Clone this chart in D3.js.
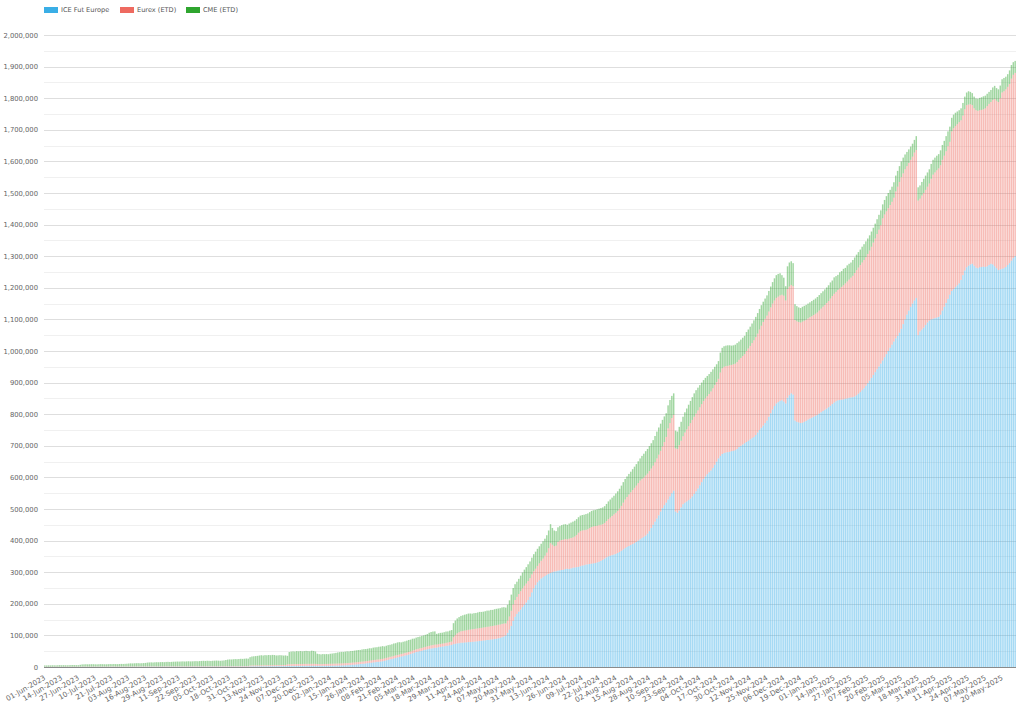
<!DOCTYPE html>
<html><head><meta charset="utf-8">
<script src="https://cdn.jsdelivr.net/npm/d3@7"></script>
<style>
body{margin:0;background:#fff}
text{font-family:"DejaVu Sans",Verdana,sans-serif}
</style>
</head><body>
<svg id="chart" width="1024" height="705"></svg>
<script>
// Series names and colours (legend order)
const seriesNames = ["ICE Fut Europe", "Eurex (ETD)", "CME (ETD)"];
const seriesColors = ["#3aaee6", "#ee6a60", "#2fa52f"];
const startDate = "2023-06-01"; // first business day shown; one bar per weekday
// Values in thousands, one per weekday bar
const iceFutEurope = [
0.3,0.3,0.3,0.3,0.3,0.3,0.3,0.3,0.4,0.4,
0.4,0.4,0.4,0.4,0.4,0.4,0.4,0.5,0.5,0.5,
0.5,0.5,0.5,0.5,0.5,0.5,0.5,0.5,0.6,0.6,
0.6,0.6,0.6,0.6,0.6,0.6,0.6,0.6,0.6,0.6,
0.7,0.7,0.7,0.7,0.7,0.7,0.7,0.7,0.7,0.7,
0.7,0.7,0.7,0.7,0.8,0.8,0.8,0.8,0.8,0.8,
0.8,0.8,0.8,0.8,0.8,0.8,0.8,0.8,0.9,0.9,
0.9,0.9,0.9,0.9,0.9,0.9,0.9,0.9,0.9,0.9,
0.9,0.9,0.9,0.9,1.0,1.0,1.0,1.0,1.0,1.0,
1.0,1.0,1.0,1.0,1.0,1.0,1.0,1.0,1.0,1.0,
1.1,1.1,1.1,1.1,1.1,1.2,1.2,1.2,1.2,1.2,
1.8,2.0,2.1,2.1,2.2,2.2,2.3,2.3,2.4,2.4,
2.5,2.5,2.6,2.6,2.7,2.7,2.8,2.8,2.9,2.9,
3.0,3.1,3.1,3.2,3.2,3.3,3.3,3.4,3.4,3.5,
3.5,3.6,3.6,3.7,3.7,3.6,3.5,3.5,3.4,3.5,
3.6,3.6,3.7,3.8,3.9,4.1,4.2,4.4,4.6,4.9,
5.1,5.3,5.7,6.0,6.4,7.1,7.4,8.1,8.5,9.3,
9.9,10.4,11.3,11.9,12.9,13.4,14.3,14.9,15.9,16.4,
17.3,18.1,19.4,21.1,22.4,24.2,25.3,27.1,28.4,30.2,
31.4,33.2,34.3,36.1,37.4,39.2,40.8,43.1,44.8,47.2,
48.4,50.1,51.3,53.2,54.4,56.1,57.3,58.6,59.4,60.7,
61.3,62.6,63.4,64.7,65.3,66.6,67.4,68.7,69.8,72.2,
73.4,74.6,75.3,76.7,76.9,77.6,77.8,78.7,78.9,79.6,
80.1,80.9,81.4,82.4,82.9,83.9,84.3,85.4,85.8,86.9,
87.4,88.6,89.3,90.7,91.8,94.2,96.6,
100,108,118,130,146,159,168,175,182,190,
197,204,212,222,236,249,259,268,274,280,
284,288,292,295,298,300,302,303,305,306,
307,308,310,311,310,312,314,315,316,317,
319,321,322,324,325,326,327,328,329,331,
333,336,339,343,347,350,352,354,356,358,
361,364,368,372,376,380,383,386,389,392,
396,400,404,408,412,416,422,430,440,450,
460,470,480,492,503,512,520,530,540,550,
558,492,488,495,505,515,520,524,528,533,
540,548,556,565,575,585,595,603,610,616,
622,630,640,650,660,668,674,677,679,680,
681,683,684,686,690,696,700,704,708,712,
716,720,724,728,734,742,750,757,764,772,
780,792,803,815,826,834,838,842,844,840,
834,852,860,866,862,780,776,774,772,773,
776,779,783,786,789,792,795,798,802,806,
810,814,818,822,827,832,837,841,844,845,
846,847,849,850,852,853,854,856,860,865,
870,876,882,890,898,906,915,924,933,942,
951,960,970,980,990,1000,1010,1020,1030,1040,
1048,1058,1070,1085,1100,1115,1128,1140,1150,1160,
1168,1050,1062,1068,1074,1082,1090,1096,1100,1102,
1104,1106,1108,1115,1128,1140,1152,1165,1178,1190,
1196,1202,1208,1214,1225,1240,1255,1265,1270,1274,
1276,1270,1264,1262,1265,1266,1267,1266,1268,1272,
1276,1274,1268,1262,1256,1258,1260,1262,1266,1272,
1278,1286,1294,1300];
const eurexETD = [
0.6,0.6,0.6,0.7,0.6,0.7,0.7,0.7,0.7,0.7,
0.7,0.8,0.8,0.8,0.8,0.8,0.8,0.9,0.9,0.9,
0.9,0.9,1.0,1.0,1.0,1.0,1.0,1.0,1.0,1.0,
1.0,1.0,1.0,1.1,1.1,1.1,1.1,1.1,1.1,1.1,
1.1,1.1,1.1,1.1,1.2,1.2,1.2,1.2,1.2,1.2,
1.2,1.2,1.2,1.2,1.3,1.3,1.3,1.3,1.3,1.3,
1.3,1.3,1.3,1.3,1.3,1.4,1.4,1.4,1.4,1.4,
1.4,1.4,1.4,1.4,1.4,1.4,1.5,1.5,1.5,1.5,
1.5,1.5,1.5,1.5,1.5,1.5,1.5,1.5,1.5,1.5,
1.5,1.5,1.5,1.6,1.6,1.6,1.6,1.6,1.6,1.6,
1.7,1.7,1.7,1.7,1.7,1.7,1.8,1.8,1.8,1.8,
2.8,2.9,2.9,3.0,3.0,3.0,3.1,3.1,3.1,3.2,
3.2,3.2,3.2,3.3,3.3,3.3,3.3,3.4,3.4,3.4,
5.5,5.7,5.8,5.9,6.0,6.0,6.1,6.1,6.2,6.2,
6.3,6.3,6.3,6.4,6.4,6.2,6.0,5.9,5.8,5.9,
6.0,6.1,6.2,6.3,6.4,6.4,6.5,6.5,6.6,6.6,
6.7,6.7,6.8,6.8,6.9,6.9,7.0,7.0,7.1,7.1,
7.2,7.2,7.3,7.3,7.4,7.4,7.5,7.5,7.6,7.6,
7.7,7.7,7.8,7.8,7.9,7.9,8.0,8.0,8.1,8.1,
8.2,8.2,8.3,8.3,8.4,8.4,8.5,8.6,8.7,8.8,
8.9,9.0,9.1,9.2,9.3,9.4,9.6,9.8,10.0,10.1,
9.8,9.6,9.5,9.4,9.6,9.8,10.0,10.3,10.7,22.0,
27.5,31.8,34.6,36.3,37.2,37.9,38.5,39.0,39.4,39.8,
40.1,40.3,40.6,40.8,41.0,41.3,41.5,41.7,42.0,42.2,
42.4,42.6,42.8,43.0,42.6,42.1,41.0,
38,39,42,48,52,53,54,56,58,59,
60,60,60,59,57,54,52,52,54,56,
59,64,70,81,94,87,80,81,91,94,
95,95,95,93,96,96,96,98,102,108,
111,111,111,110,111,114,116,117,117,116,
116,114,113,113,115,118,121,124,127,130,
133,137,142,148,154,158,163,167,171,175,
178,182,186,187,188,190,190,190,188,187,
188,190,192,192,195,200,208,225,232,238,
240,200,202,207,211,215,222,228,234,239,
242,244,246,247,247,247,247,247,247,248,
250,252,252,252,252,264,271,273,273,273,
274,273,274,274,275,276,278,280,282,288,
292,296,301,306,310,313,318,323,328,330,
332,333,335,335,334,334,334,334,334,335,
326,344,344,343,343,318,318,318,318,320,
320,320,320,321,321,322,323,324,326,328,
330,332,334,336,339,342,344,346,349,353,
357,361,365,370,374,379,384,391,396,399,
402,404,406,407,409,412,415,419,423,428,
433,438,450,452,452,452,452,452,455,465,
472,477,480,477,475,470,467,465,465,468,
468,426,420,424,426,428,430,434,445,456,
461,466,470,473,477,478,480,483,484,505,
509,510,510,510,505,505,510,513,510,507,
502,498,498,498,497,497,498,502,507,510,
512,520,530,530,532,542,558,560,562,564,
567,576,580,580];
const cmeETD = [
4.2,4.0,4.3,4.1,4.5,4.4,4.2,4.6,4.8,4.5,
4.7,4.4,4.3,4.6,4.9,5.1,4.8,4.5,4.4,5.6,
6.8,7.0,7.2,6.9,7.1,7.4,7.3,7.0,6.8,7.2,
7.5,7.3,7.1,6.9,7.2,7.6,7.4,7.8,7.5,7.3,
7.7,8.0,7.8,8.2,8.5,9.2,9.6,9.4,9.8,10.1,
10.3,9.9,10.2,10.5,10.8,11.9,12.3,12.6,12.2,12.8,
13.1,12.9,13.3,13.6,13.2,13.8,14.1,13.7,14.0,14.4,
14.6,15.0,14.8,15.2,15.5,15.1,15.4,15.8,15.3,15.6,
15.9,16.2,15.8,16.4,16.8,17.1,16.7,17.3,17.0,16.6,
17.2,17.5,17.9,17.4,17.0,17.6,18.1,19.5,20.8,21.4,
21.0,21.6,22.3,21.9,22.5,23.0,22.6,23.2,23.8,23.4,
26.5,28.3,28.9,29.4,30.1,31.2,31.8,31.0,32.1,31.6,
32.3,31.7,32.5,31.9,30.6,30.9,31.4,30.8,29.9,30.4,
26.8,38.6,39.8,40.3,39.6,40.9,40.1,41.0,39.9,40.6,
41.2,40.5,39.8,41.5,40.7,39.3,32.5,31.4,30.8,31.6,
30.9,31.2,30.5,31.8,32.4,33.1,34.0,35.2,35.8,36.3,
35.9,36.6,37.1,36.4,37.3,36.8,37.5,37.8,38.2,37.6,
38.5,38.9,38.3,38.6,39.1,38.4,39.5,39.8,39.2,40.1,
39.6,40.3,37.8,38.4,38.9,38.2,38.7,39.3,38.8,39.5,
39.0,36.5,37.2,36.8,37.5,37.9,37.3,37.8,36.5,37.0,
37.6,37.2,38.0,37.5,38.2,38.8,41.5,42.3,42.8,41.9,
33.8,34.5,35.1,34.6,35.3,35.8,35.2,36.0,36.4,44.5,
46.1,47.2,48.0,48.6,49.5,50.1,50.8,51.4,51.0,49.5,
50.2,49.8,50.6,51.1,50.4,49.9,50.7,51.3,50.8,51.5,
50.9,51.6,52.0,51.4,51.8,52.2,51.7,
50,50,51,51,52,50,48,48,49,50,
51,52,53,53,53,54,54,54,54,54,
55,54,55,56,60,53,50,46,46,46,
47,48,47,46,48,49,50,50,50,49,
49,49,49,50,50,50,51,51,51,52,
52,53,53,53,54,56,57,58,59,61,
62,63,64,65,65,65,65,65,66,67,
68,69,70,73,75,77,78,79,80,81,
83,85,86,86,84,81,75,73,73,70,
68,56,55,58,60,62,64,66,68,70,
72,74,74,72,70,68,66,65,64,63,
62,60,58,56,56,63,65,65,65,65,
63,61,60,60,60,58,58,58,58,60,
60,61,62,63,64,65,65,65,64,64,
64,65,66,68,70,72,72,70,62,57,
45,72,76,75,73,50,48,46,46,47,
47,47,47,47,48,48,48,49,49,49,
49,49,49,50,51,49,52,50,48,51,
50,52,49,51,50,48,50,49,49,49,
49,50,50,50,49,48,48,47,47,47,
47,47,44,46,48,48,48,48,49,50,
50,50,50,50,47,45,43,42,41,40,
44,42,42,43,45,45,45,45,47,47,
47,46,45,47,47,47,48,47,48,43,
43,42,40,38,38,40,40,40,42,39,
38,37,37,38,39,40,41,40,39,38,
38,40,41,40,40,40,42,42,40,40,
43,43,40,38];
const tickLabels = ["01-Jun-2023","14-Jun-2023","27-Jun-2023","10-Jul-2023","21-Jul-2023","03-Aug-2023","16-Aug-2023","29-Aug-2023","11-Sep-2023","22-Sep-2023","05-Oct-2023","18-Oct-2023","31-Oct-2023","13-Nov-2023","24-Nov-2023","07-Dec-2023","20-Dec-2023","02-Jan-2024","15-Jan-2024","26-Jan-2024","08-Feb-2024","21-Feb-2024","05-Mar-2024","18-Mar-2024","29-Mar-2024","11-Apr-2024","24-Apr-2024","07-May-2024","20-May-2024","31-May-2024","13-Jun-2024","26-Jun-2024","09-Jul-2024","22-Jul-2024","02-Aug-2024","15-Aug-2024","28-Aug-2024","10-Sep-2024","23-Sep-2024","04-Oct-2024","17-Oct-2024","30-Oct-2024","12-Nov-2024","25-Nov-2024","06-Dec-2024","19-Dec-2024","01-Jan-2025","14-Jan-2025","27-Jan-2025","07-Feb-2025","20-Feb-2025","05-Mar-2025","18-Mar-2025","31-Mar-2025","11-Apr-2025","24-Apr-2025","07-May-2025","20-May-2025"];
const yTickValues = [0,100,200,300,400,500,600,700,800,900,1000,1100,1200,1300,1400,1500,1600,1700,1800,1900,2000];
const yMax = 2000;

// ---- build categories (weekdays) ----
const fmt = d3.utcFormat("%d-%b-%Y");
const categories = [];
{
  let d = new Date(startDate + "T00:00:00Z");
  while (categories.length < iceFutEurope.length) {
    const wd = d.getUTCDay();
    if (wd !== 0 && wd !== 6) categories.push(fmt(d));
    d = new Date(d.getTime() + 86400000);
  }
}
const keys = ["ice", "eurex", "cme"];
const table = categories.map((c, i) => ({date: c, ice: iceFutEurope[i], eurex: eurexETD[i], cme: cmeETD[i]}));
const stacked = d3.stack().keys(keys)(table);

const svg = d3.select("#chart");
const m = {left: 44, right: 8, top: 35, bottom: 38};
const W = 1024, H = 705;
const x = d3.scaleBand().domain(categories).range([m.left, W - m.right]).paddingInner(0.22).paddingOuter(0.05);
const y = d3.scaleLinear().domain([0, yMax]).range([667, 35]);

// grid
const grid = svg.append("g");
const minor = yTickValues.slice(0, -1).map(v => v + 50);
grid.selectAll("line.minor").data(minor).join("line")
  .attr("x1", m.left).attr("x2", W - m.right)
  .attr("y1", d => Math.round(y(d)) + 0.5).attr("y2", d => Math.round(y(d)) + 0.5)
  .attr("stroke", "#f0f0f0").attr("stroke-width", 1);
grid.selectAll("line.major").data(yTickValues.slice(1)).join("line")
  .attr("x1", m.left).attr("x2", W - m.right)
  .attr("y1", d => Math.round(y(d)) + 0.5).attr("y2", d => Math.round(y(d)) + 0.5)
  .attr("stroke", "#dedede").attr("stroke-width", 1);

// bars
const layers = svg.append("g").selectAll("g").data(stacked).join("g")
  .attr("fill", (d, i) => seriesColors[i]).attr("fill-opacity", 0.45);
layers.selectAll("rect").data(d => d).join("rect")
  .attr("x", d => x(d.data.date))
  .attr("width", x.bandwidth())
  .attr("y", d => y(d[1]))
  .attr("height", d => Math.max(0, y(d[0]) - y(d[1])));

// y axis
const yAxis = svg.append("g").attr("transform", `translate(${m.left},0)`)
  .call(d3.axisLeft(y).tickValues(yTickValues).tickSize(0).tickPadding(6)
    .tickFormat(v => d3.format(",")(v * 1000)));
yAxis.select(".domain").remove();
yAxis.selectAll("text").attr("fill", "#666").attr("font-size", "6.8px")
  .attr("font-family", '"DejaVu Sans",Verdana,sans-serif');

// x axis
const tickCats = categories.filter(c => tickLabels.includes(c));
const xAxis = svg.append("g").attr("transform", `translate(0,667)`)
  .call(d3.axisBottom(x).tickValues(tickCats).tickSize(0).tickPadding(0));
xAxis.select(".domain").attr("stroke", "#8a8a8a").attr("stroke-width", 1.2)
  .attr("d", `M${m.left},0.5H${W - m.right}`);
xAxis.selectAll("text")
  .attr("fill", "#666").attr("font-size", "7.2px")
  .attr("font-family", '"DejaVu Sans",Verdana,sans-serif')
  .attr("text-anchor", "end")
  .attr("dy", "0.35em")
  .attr("transform", "translate(0,10) rotate(-30)");

// legend
const lg = svg.append("g");
const legendX = [44, 120, 186];
seriesNames.forEach((n, i) => {
  lg.append("rect").attr("x", legendX[i]).attr("y", 7).attr("width", 14).attr("height", 6)
    .attr("fill", seriesColors[i]);
  lg.append("text").attr("x", legendX[i] + 17).attr("y", 10).attr("dy", "0.35em")
    .attr("font-size", "6.6px").attr("fill", "#555").text(n);
});
</script>
</body></html>
